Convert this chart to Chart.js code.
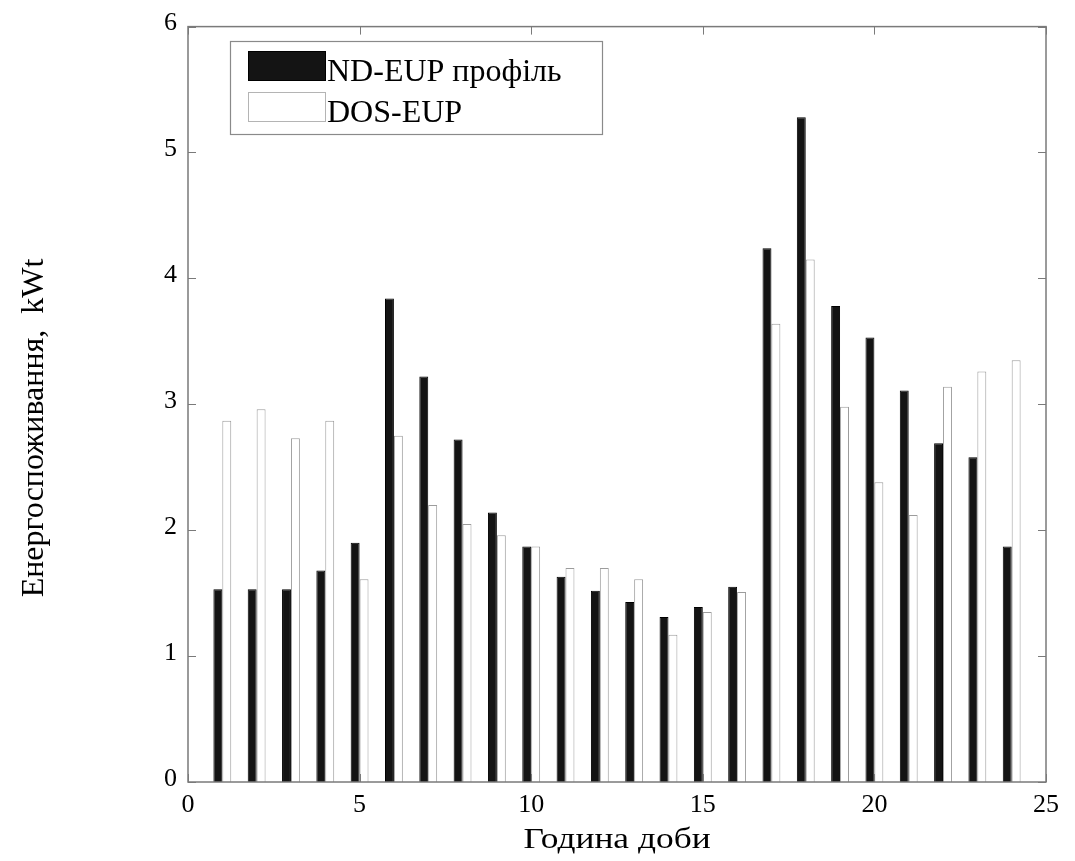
<!DOCTYPE html>
<html>
<head>
<meta charset="utf-8">
<title>Енергоспоживання</title>
<script src="https://cdn.jsdelivr.net/npm/chart.js@4/dist/chart.umd.min.js"></script>
<style>
  html, body { margin: 0; padding: 0; background: #fff; }
  #wrap { width: 1075px; height: 861px; }
</style>
</head>
<body>
<div id="wrap"><canvas id="chart" width="1075" height="861"></canvas></div>
<script>
// hourly consumption, kWt
const hours = [1, 2, 3, 4, 5, 6, 7, 8, 9, 10, 11, 12, 13, 14, 15, 16, 17, 18, 19, 20, 21, 22, 23, 24];
const ndEup = [1.53, 1.53, 1.53, 1.68, 1.90, 3.84, 3.22, 2.72, 2.14, 1.87, 1.63, 1.52, 1.43, 1.31, 1.39, 1.55, 4.24, 5.28, 3.78, 3.53, 3.11, 2.69, 2.58, 1.87];
const dosEup = [2.87, 2.96, 2.73, 2.87, 1.61, 2.75, 2.20, 2.05, 1.96, 1.87, 1.70, 1.70, 1.61, 1.17, 1.35, 1.51, 3.64, 4.15, 2.98, 2.38, 2.12, 3.14, 3.26, 3.35];
const seriesNames = ['ND-EUP профіль', 'DOS-EUP'];
const xTicks = [0, 5, 10, 15, 20, 25];
const yTicks = [0, 1, 2, 3, 4, 5, 6];
const xTitle = 'Година доби';
const yTitle = 'Енергоспоживання,  kWt';

const FONT = "'Liberation Serif', 'Times New Roman', serif";
const AXIS_GRAY = '#7a7a7a';

const toPoints = vals => hours.map((h, i) => ({ x: h, y: vals[i] }));

// box around the plot with inward tick marks on all four sides, plus axis titles
const framePlugin = {
    id: 'frame',
    afterDatasetsDraw(chart) {
        const { ctx, chartArea: a, scales } = chart;
        const len = 8;
        ctx.save();
        ctx.strokeStyle = AXIS_GRAY;
        ctx.lineWidth = 1.5;
        ctx.strokeRect(a.left, a.top, a.right - a.left, a.bottom - a.top);
        ctx.lineWidth = 1;
        ctx.beginPath();
        xTicks.forEach(v => {
            const px = Math.round(scales.x.getPixelForValue(v)) + 0.5;
            ctx.moveTo(px, a.bottom); ctx.lineTo(px, a.bottom - len);
            ctx.moveTo(px, a.top); ctx.lineTo(px, a.top + len);
        });
        yTicks.forEach(v => {
            const py = Math.round(scales.y.getPixelForValue(v)) + 0.5;
            ctx.moveTo(a.left, py); ctx.lineTo(a.left + len, py);
            ctx.moveTo(a.right, py); ctx.lineTo(a.right - len, py);
        });
        ctx.stroke();
        ctx.restore();

        ctx.save();
        ctx.fillStyle = '#000';
        ctx.textAlign = 'center';

        // x title, a little wider than the plain font
        ctx.save();
        ctx.translate((a.left + a.right) / 2, 848);
        ctx.scale(1.18, 1);
        ctx.font = '30px ' + FONT;
        ctx.textBaseline = 'alphabetic';
        ctx.fillText(xTitle, 0, 0);
        ctx.restore();

        // y title sits a bit below the middle of the axis
        ctx.translate(35, 428);
        ctx.rotate(-Math.PI / 2);
        ctx.font = '32px ' + FONT;
        ctx.textBaseline = 'middle';
        ctx.fillText(yTitle, 0, 0);
        ctx.restore();
    }
};

// legend box in the upper left corner of the plot
const boxLegend = {
    id: 'boxLegend',
    afterDraw(chart) {
        const { ctx } = chart;
        const x = 230, y = 41, w = 372, h = 93;
        ctx.save();
        ctx.fillStyle = '#fff';
        ctx.fillRect(x, y, w, h);
        ctx.strokeStyle = '#8a8a8a';
        ctx.lineWidth = 1.2;
        ctx.strokeRect(x + 0.5, y + 0.5, w, h);
        ctx.font = '32px ' + FONT;
        ctx.textBaseline = 'alphabetic';
        chart.data.datasets.forEach((ds, i) => {
            const sy = 51 + i * 41;
            ctx.fillStyle = ds.backgroundColor;
            ctx.fillRect(248, sy, 78, 30);
            ctx.strokeStyle = i === 0 ? '#000' : '#b4b4b4';
            ctx.lineWidth = 1;
            ctx.strokeRect(248.5, sy + 0.5, 77, 29);
            ctx.fillStyle = '#000';
            ctx.fillText(ds.label, 327, sy + 30);
        });
        ctx.restore();
    }
};

new Chart(document.getElementById('chart'), {
    type: 'bar',
    data: {
        datasets: [
            {
                label: seriesNames[0],
                data: toPoints(ndEup),
                backgroundColor: '#141414',
                borderColor: '#000',
                borderWidth: 1
            },
            {
                label: seriesNames[1],
                data: toPoints(dosEup),
                backgroundColor: '#ffffff',
                borderColor: '#9c9c9c',
                borderWidth: 1
            }
        ]
    },
    options: {
        responsive: false,
        animation: false,
        categoryPercentage: 0.52,
        barPercentage: 1,
        layout: { padding: { top: 21, right: 29, left: 0, bottom: 0 } },
        plugins: {
            legend: { display: false },
            tooltip: { enabled: false }
        },
        scales: {
            x: {
                type: 'linear',
                min: 0,
                max: 25,
                offset: false,
                grid: { display: false, drawTicks: false, offset: false },
                border: { display: false },
                afterFit: s => { s.height = 79; },
                afterBuildTicks: s => { s.ticks = xTicks.map(v => ({ value: v })); },
                ticks: { color: '#000', padding: 8, font: { family: FONT, size: 26 } }
            },
            y: {
                min: 0,
                max: 6,
                grid: { display: false, drawTicks: false },
                border: { display: false },
                afterFit: s => { s.width = 188; },
                afterBuildTicks: s => { s.ticks = yTicks.map(v => ({ value: v })); },
                ticks: { color: '#000', padding: 11, labelOffset: -3, font: { family: FONT, size: 26 } }
            }
        }
    },
    plugins: [framePlugin, boxLegend]
});
</script>
</body>
</html>
